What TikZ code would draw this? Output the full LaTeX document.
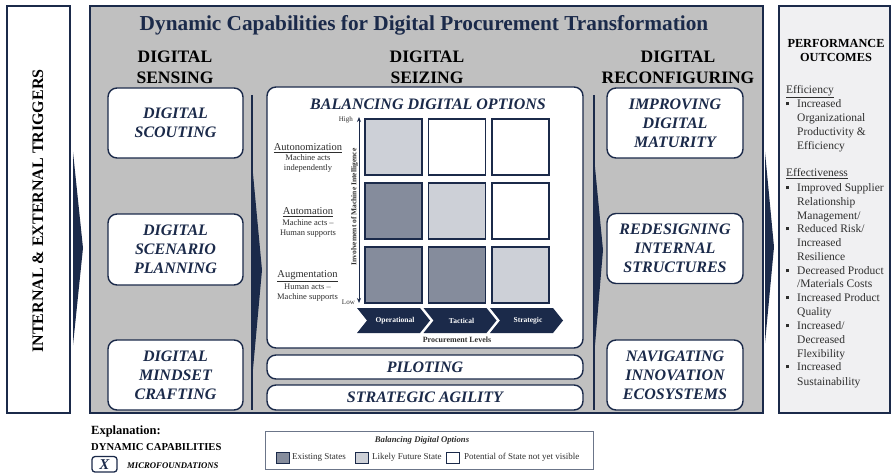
\documentclass[tikz,border=0pt]{standalone}
\usepackage{fontspec}
\setmainfont{Liberation Serif}
\usetikzlibrary{arrows.meta}
\definecolor{navy}{HTML}{1B2A4A}
\definecolor{panelgray}{HTML}{C0C0C0}
\definecolor{stateexist}{HTML}{858C9C}
\definecolor{statelikely}{HTML}{CDD0D7}
\definecolor{outfill}{HTML}{F0F0F2}
\definecolor{bodytext}{HTML}{2E2E2E}
\newcommand\setfs[2]{\fontsize{#1}{#2}\selectfont}
\newcommand\sqbullet{\rule[2.2pt]{3pt}{3pt}\hspace{8pt}}

\begin{document}
\begin{tikzpicture}[x=1pt,y=-1pt,
  panelframe/.style={draw=navy,line width=1.4pt,inner sep=0pt},
  capbox/.style={draw=navy,line width=1.4pt,fill=white,rounded corners=9pt,inner sep=0pt,
    align=center,text=navy,font=\setfs{16}{19}\bfseries\itshape},
  colhead/.style={align=center,font=\setfs{17.5}{21}\bfseries,inner sep=0pt},
  statecell/.style={draw=navy,line width=1.1pt,minimum width=57pt,minimum height=56pt,inner sep=0pt},
  levellabel/.style={font=\setfs{10.5}{12},text=bodytext,inner sep=0pt},
  levelnote/.style={font=\setfs{8.5}{10},text=bodytext,align=center,inner sep=0pt},
  axtext/.style={font=\setfs{7}{8},text=bodytext,inner sep=0pt,anchor=east},
  chev/.style={fill=navy},
  chevtext/.style={font=\setfs{7.5}{9}\bfseries,text=white,inner sep=0pt},
  outitem/.style={anchor=base west,font=\setfs{11.5}{13},text=bodytext,inner sep=0pt},
  wedgearrow/.style={fill=navy},
  stem/.style={draw=navy,line width=1.3pt},
  swatch/.style={draw=navy,line width=0.8pt,minimum width=13pt,minimum height=11pt,inner sep=0pt},
  legtext/.style={anchor=west,font=\setfs{9}{11},text=bodytext,inner sep=0pt},
]
\useasboundingbox (0,0) rectangle (893,473);

% three main panels
\node[panelframe,fill=white,minimum width=63pt,minimum height=407pt] (triggers) at (38.5,209.5) {};
\node[rotate=90,font=\setfs{16}{19}\bfseries,inner sep=0pt] (triggerstext) at (38,211) {INTERNAL \& EXTERNAL TRIGGERS};
\node[panelframe,fill=panelgray,minimum width=673pt,minimum height=407pt] (panel) at (426.5,209.5) {};
\node[panelframe,fill=outfill,minimum width=111pt,minimum height=407pt] (outcomes) at (834.5,209.5) {};

% title and column headings
\node[anchor=base,font=\setfs{21.3}{25}\bfseries,text=navy,inner sep=0pt] (title) at (424,31)
  {Dynamic Capabilities for Digital Procurement Transformation};
\node[colhead] (hsense) at (175,67.5) {DIGITAL\\SENSING};
\node[colhead] (hseize) at (427,67.5) {DIGITAL\\SEIZING};
\node[colhead] (hreconf) at (678,67.5) {DIGITAL\\RECONFIGURING};

% sensing microfoundations
\node[capbox,minimum width=135pt,minimum height=70pt] (scout) at (175.5,123) {DIGITAL\\SCOUTING};
\node[capbox,minimum width=135pt,minimum height=71pt] (scenario) at (175.5,249.5) {DIGITAL\\SCENARIO\\PLANNING};
\node[capbox,minimum width=135pt,minimum height=70pt] (mindset) at (175.5,375) {DIGITAL\\MINDSET\\CRAFTING};

% reconfiguring microfoundations
\node[capbox,minimum width=136pt,minimum height=70pt] (maturity) at (675,123) {IMPROVING\\DIGITAL\\MATURITY};
\node[capbox,minimum width=136pt,minimum height=70pt] (redesign) at (675,248.5) {REDESIGNING\\INTERNAL\\STRUCTURES};
\node[capbox,minimum width=136pt,minimum height=70pt] (ecosys) at (675,375) {NAVIGATING\\INNOVATION\\ECOSYSTEMS};

% seizing microfoundations
\node[capbox,minimum width=316pt,minimum height=261pt] (balancing) at (425,217.5) {};
\node[font=\setfs{16}{19}\bfseries\itshape,text=navy,inner sep=0pt] (baltitle) at (428,104) {BALANCING DIGITAL OPTIONS};
\node[capbox,minimum width=316pt,minimum height=24pt] (piloting) at (425,367) {PILOTING};
\node[capbox,minimum width=316pt,minimum height=25pt] (agility) at (425,397.5) {STRATEGIC AGILITY};

% state matrix
\node[statecell,fill=statelikely] (m11) at (393.5,147) {};
\node[statecell,fill=white]       (m12) at (457,147) {};
\node[statecell,fill=white]       (m13) at (520.5,147) {};
\node[statecell,fill=stateexist]  (m21) at (393.5,211) {};
\node[statecell,fill=statelikely] (m22) at (457,211) {};
\node[statecell,fill=white]       (m23) at (520.5,211) {};
\node[statecell,fill=stateexist]  (m31) at (393.5,275) {};
\node[statecell,fill=stateexist]  (m32) at (457,275) {};
\node[statecell,fill=statelikely] (m33) at (520.5,275) {};

% machine intelligence axis
\coordinate (axhigh) at (359,117);
\coordinate (axlow) at (359,303);
\draw[navy,line width=1pt,{Stealth[length=5pt,width=4pt]}-{Stealth[length=5pt,width=4pt]}] (axlow) -- (axhigh);
\node[axtext] (hightext) at (353,120) {High};
\node[axtext] (lowtext) at (355,302) {Low};
\node[rotate=90,font=\setfs{7.5}{9}\bfseries,text=bodytext,inner sep=0pt] (axlabel) at (354.5,207) {Involvement of Machine Intelligence};

% levels of machine involvement
\node[levellabel] (autonom) at (308,148) {\underline{Autonomization}};
\node[levelnote] (autonomnote) at (308,163.5) {Machine acts\\independently};
\node[levellabel] (automat) at (308,212) {\underline{Automation}};
\node[levelnote] (automatnote) at (308,228) {Machine acts --\\Human supports};
\node[levellabel] (augment) at (307.5,276) {\underline{Augmentation}};
\node[levelnote] (augmentnote) at (307.5,292.5) {Human acts --\\Machine supports};

% procurement level chevrons
\fill[chev] (357,308) -- (420,308) -- (430,320.5) -- (420,333) -- (357,333) -- (367,320.5) -- cycle;
\fill[chev] (423.5,308) -- (486.5,308) -- (496.5,320.5) -- (486.5,333) -- (423.5,333) -- (433.5,320.5) -- cycle;
\fill[chev] (490,308) -- (553,308) -- (563,320.5) -- (553,333) -- (490,333) -- (500,320.5) -- cycle;
\node[chevtext] (opl) at (395,320.5) {Operational};
\node[chevtext] (tac) at (461.5,320.5) {Tactical};
\node[chevtext] (str) at (528,320.5) {Strategic};
\node[font=\setfs{8}{9}\bfseries,text=bodytext,inner sep=0pt] (proclevels) at (457,340) {Procurement Levels};

% flow wedges between the stages
\fill[wedgearrow] (73,152) -- (83,248) -- (73,345) -- cycle;
\draw[stem] (252,95) -- (252,410);
\fill[wedgearrow] (252,163) -- (262,270) -- (252,380) -- cycle;
\draw[stem] (594,95) -- (594,410);
\fill[wedgearrow] (594,157) -- (603,250) -- (594,357) -- cycle;
\fill[wedgearrow] (765,152) -- (774,247) -- (765,343) -- cycle;

% performance outcomes
\node[font=\setfs{12.3}{14}\bfseries,align=center,inner sep=0pt] (outhead) at (836,50.5) {PERFORMANCE\\OUTCOMES};
\node[outitem] (effhead) at (786,93.5) {\underline{Efficiency}};
\node[outitem] (o1) at (786,107.5) {\sqbullet Increased};
\node[outitem] (o2) at (797,121.5) {Organizational};
\node[outitem] (o3) at (797,135.5) {Productivity \&};
\node[outitem] (o4) at (797,149.5) {Efficiency};
\node[outitem] (efthead) at (786,176.5) {\underline{Effectiveness}};
\node[outitem] (o5) at (786,191.5) {\sqbullet Improved Supplier};
\node[outitem] (o6) at (797,205.5) {Relationship};
\node[outitem] (o7) at (797,219.5) {Management/};
\node[outitem] (o8) at (786,232.5) {\sqbullet Reduced Risk/};
\node[outitem] (o9) at (797,246.5) {Increased};
\node[outitem] (o10) at (797,260.5) {Resilience};
\node[outitem] (o11) at (786,274.5) {\sqbullet Decreased Product};
\node[outitem] (o12) at (797,287.5) {/Materials Costs};
\node[outitem] (o13) at (786,301.5) {\sqbullet Increased Product};
\node[outitem] (o14) at (797,315.5) {Quality};
\node[outitem] (o15) at (786,329.5) {\sqbullet Increased/};
\node[outitem] (o16) at (797,343.5) {Decreased};
\node[outitem] (o17) at (797,357.5) {Flexibility};
\node[outitem] (o18) at (786,370.5) {\sqbullet Increased};
\node[outitem] (o19) at (797,385.5) {Sustainability};

% explanation key
\node[anchor=base west,font=\setfs{12.5}{14}\bfseries,inner sep=0pt] (expl) at (91,434) {Explanation:};
\node[anchor=base west,font=\setfs{10.6}{12}\bfseries,inner sep=0pt] (dyncap) at (91,450) {DYNAMIC CAPABILITIES};
\node[draw=navy,line width=1.3pt,rounded corners=3pt,minimum width=25pt,minimum height=15.5pt,inner sep=0pt,
  font=\setfs{15}{17}\bfseries\itshape,text=navy] (xbox) at (104.5,464.3) {X};
\node[anchor=base west,font=\setfs{8.7}{10}\bfseries\itshape,inner sep=0pt] (microf) at (127,468.3) {MICROFOUNDATIONS};

% state legend
\node[draw=navy!65,line width=0.9pt,minimum width=328pt,minimum height=38pt,inner sep=0pt] (legend) at (429,450) {};
\node[font=\setfs{8.7}{10}\bfseries\itshape,text=bodytext,inner sep=0pt] (legtitle) at (422,440) {Balancing Digital Options};
\node[swatch,fill=stateexist] (swexist) at (282.5,457.5) {};
\node[legtext] (lgexist) at (292,457.5) {Existing States};
\node[swatch,fill=statelikely] (swlikely) at (361.5,457.5) {};
\node[legtext] (lglikely) at (372,457.5) {Likely Future State};
\node[swatch,fill=white] (swopen) at (452.5,457.5) {};
\node[legtext] (lgopen) at (464,457.5) {Potential of State not yet visible};
\end{tikzpicture}
\end{document}
